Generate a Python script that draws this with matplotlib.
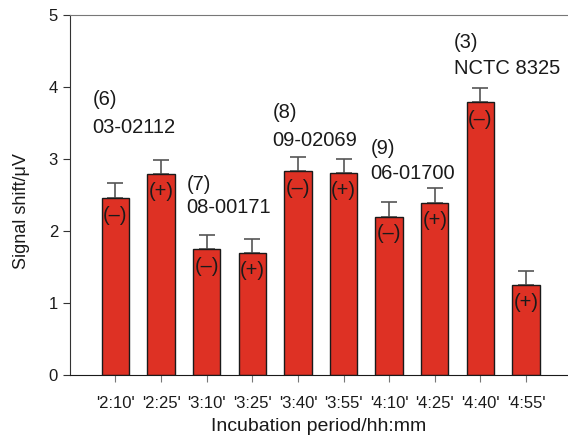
import matplotlib.pyplot as plt
import numpy as np

plt.rcParams['font.family'] = ['Liberation Sans', 'DejaVu Sans']

# data
periods = ["'2:10'", "'2:25'", "'3:10'", "'3:25'", "'3:40'",
           "'3:55'", "'4:10'", "'4:25'", "'4:40'", "'4:55'"]
signal = [2.46, 2.79, 1.75, 1.69, 2.83, 2.80, 2.20, 2.39, 3.79, 1.25]
errors = [0.20, 0.20, 0.20, 0.20, 0.20, 0.20, 0.20, 0.20, 0.19, 0.20]
signs = ["(–)", "(+)", "(–)", "(+)", "(–)", "(+)", "(–)", "(+)", "(–)", "(+)"]

# strain labels: number line and name line
strain_numbers = ["(6)", "(7)", "(8)", "(9)", "(3)"]
strain_names = ["03-02112", "08-00171", "09-02069", "06-01700", "NCTC 8325"]
strain_x = [-0.5, 1.56, 3.44, 5.59, 7.41]
strain_y = [3.82, 2.64, 3.64, 3.15, 4.61]
name_y = [3.44, 2.32, 3.26, 2.80, 4.26]

fig = plt.figure(figsize=(5.68, 4.37), dpi=100)
ax = fig.add_axes([0.123, 0.142, 0.877, 0.824])

x = np.arange(len(periods))
ax.bar(x, signal, width=0.6, color='#DE3124', edgecolor='#1a1a1a',
       linewidth=1.0, zorder=2)
ax.errorbar(x, signal, yerr=[np.zeros(len(errors)), errors], fmt='none',
            ecolor='#555555', elinewidth=1.2, capsize=6, capthick=1.2, zorder=1)

for xi, v, s in zip(x, signal, signs):
    ax.text(xi, v - 0.24, s, ha='center', va='center', fontsize=14.5, color='#1a1a1a')

for n, name, sx, sy, ny in zip(strain_numbers, strain_names, strain_x, strain_y, name_y):
    ax.text(sx, sy, n, ha='left', va='center', fontsize=14.5, color='#1a1a1a')
    ax.text(sx, ny, name, ha='left', va='center', fontsize=14.5, color='#1a1a1a')

ax.set_xlim(-1, 9.92)
ax.set_ylim(0, 5)
ax.set_yticks(range(6))
ax.set_xticks(x)
ax.set_xticklabels(periods)
ax.tick_params(axis='both', labelsize=12, colors='#1a1a1a', direction='out')
ax.tick_params(axis='x', length=5, color='#777777', pad=10)
ax.tick_params(axis='y', length=5, color='#333333')

ax.spines['right'].set_visible(False)
ax.spines['top'].set_color('#777777')
ax.spines['left'].set_color('#333333')
ax.spines['bottom'].set_color('#1a1a1a')

ax.set_xlabel('Incubation period/hh:mm', fontsize=14, color='#1a1a1a', labelpad=5)
ax.set_ylabel('Signal shift/μV', fontsize=13, color='#1a1a1a')
ax.yaxis.set_label_coords(-0.08, 0.456)

fig.savefig('out.png', dpi=100)
